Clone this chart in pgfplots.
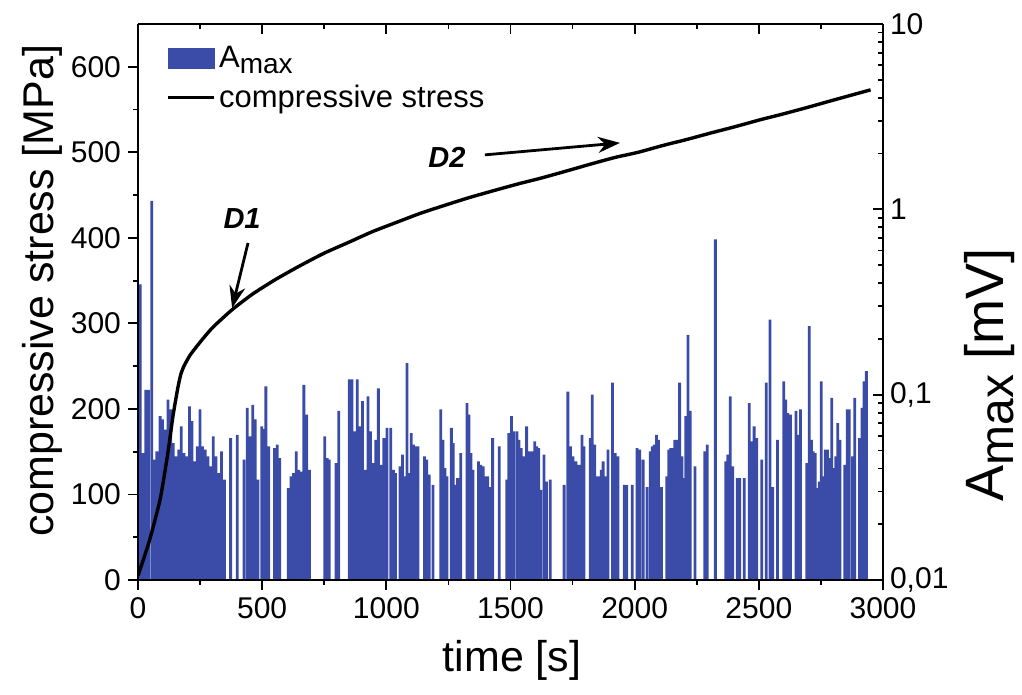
\documentclass[border=0pt]{standalone}
\usepackage{fontspec}
\setmainfont{Liberation Sans}
\usepackage{pgfplots}
\pgfplotsset{compat=1.18}
\usepackage{pgfplotstable}
\usetikzlibrary{arrows.meta}
\definecolor{barblue}{RGB}{58,76,168}

\pgfplotstableread{
t mV
9 0.394
20 0.0484
31 0.106
42 0.106
55 1.11
64 0.0446
76 0.0494
89 0.0765
99 0.0735
110 0.0647
121 0.0941
132 0.0832
142 0.0548
153 0.0464
164 0.0505
174 0.0675
185 0.0484
196 0.0464
207 0.0865
217 0.0719
228 0.0437
239 0.0526
250 0.0832
260 0.0526
271 0.0505
282 0.0464
293 0.0410
303 0.0595
314 0.0464
325 0.0377
336 0.0494
348 0.0348
373 0.0583
400 0.0607
427 0.0446
440 0.0848
451 0.0595
462 0.0882
472 0.0735
483 0.0348
498 0.0675
505 0.0652
515 0.111
526 0.0526
550 0.0515
561 0.0537
571 0.0454
605 0.0313
616 0.0362
626 0.0377
637 0.0494
647 0.0393
658 0.0385
668 0.113
679 0.0780
690 0.0393
752 0.0595
762 0.0454
770 0.0446
797 0.0427
808 0.0818
851 0.121
862 0.121
872 0.0634
883 0.121
894 0.0675
904 0.0922
915 0.0393
926 0.0979
936 0.0634
947 0.0427
957 0.0571
968 0.108
979 0.0418
990 0.0583
1003 0.0661
1018 0.0661
1029 0.0393
1037 0.0377
1055 0.0410
1065 0.0475
1075 0.0362
1083 0.148
1091 0.0377
1100 0.0621
1109 0.0537
1117 0.0526
1127 0.0526
1154 0.0464
1163 0.0446
1173 0.0370
1188 0.0326
1219 0.0832
1228 0.0571
1236 0.0401
1244 0.0362
1262 0.0661
1269 0.0548
1278 0.0326
1287 0.0355
1293 0.0355
1300 0.0484
1325 0.0900
1333 0.0780
1341 0.0484
1349 0.0393
1371 0.0437
1380 0.0418
1390 0.0410
1398 0.0362
1408 0.0362
1416 0.0317
1428 0.0583
1455 0.0526
1485 0.0348
1493 0.0621
1504 0.0765
1513 0.0634
1526 0.0634
1534 0.0571
1543 0.0515
1553 0.0464
1565 0.0675
1576 0.0494
1586 0.0494
1598 0.0560
1606 0.0526
1614 0.0515
1622 0.0306
1635 0.0475
1645 0.0340
1660 0.0348
1716 0.0326
1731 0.104
1742 0.0526
1752 0.0464
1764 0.0437
1772 0.0418
1780 0.0418
1788 0.0607
1796 0.0526
1821 0.0583
1829 0.100
1839 0.0537
1846 0.0362
1853 0.0362
1866 0.0393
1873 0.0437
1881 0.0362
1893 0.0505
1911 0.116
1922 0.0484
1933 0.0464
1958 0.0326
1968 0.0326
1990 0.0326
2009 0.0515
2020 0.0505
2034 0.0446
2050 0.0317
2063 0.0494
2071 0.0526
2079 0.0537
2088 0.0607
2096 0.0571
2108 0.0317
2129 0.0362
2137 0.0505
2145 0.0515
2153 0.0515
2161 0.0571
2169 0.0571
2181 0.116
2190 0.0464
2198 0.0355
2206 0.0765
2215 0.210
2224 0.0818
2243 0.0410
2282 0.0494
2292 0.0537
2325 0.689
2367 0.0437
2375 0.0475
2385 0.0979
2395 0.0410
2413 0.0355
2423 0.0355
2441 0.0355
2461 0.0900
2471 0.0560
2481 0.0675
2492 0.0583
2512 0.0446
2530 0.116
2545 0.254
2556 0.0317
2575 0.0571
2600 0.118
2608 0.0941
2616 0.0795
2627 0.0780
2650 0.0818
2659 0.0607
2668 0.0832
2693 0.0427
2703 0.234
2712 0.0571
2719 0.0494
2727 0.0484
2736 0.0313
2743 0.0340
2751 0.118
2760 0.0362
2768 0.0505
2776 0.0505
2785 0.0454
2794 0.0960
2802 0.0401
2810 0.0464
2818 0.0703
2827 0.0571
2846 0.0418
2856 0.0832
2864 0.0832
2877 0.0464
2886 0.0960
2905 0.0583
2916 0.0848
2924 0.118
2933 0.134
}\amaxdata

\pgfplotstableread{
t s
0 5
45 45
89 94
120 148
141 192
160 224
172 240
185 250
210 263
250 278
300 295
379 316
460 334
552 351
650 367
749 382
850 395
942 407
1040 418
1140 429
1235 438
1333 447
1430 455
1530 463
1625 470
1724 478
1820 486
1921 494
2014 500
2114 508
2210 515
2312 523
2405 530
2505 538
2600 545
2702 553
2800 561
2950 573
}\stressdata

\begin{document}
\begin{tikzpicture}
\pgfplotsset{
  every axis/.append style={
    scale only axis, width=372.5pt, height=278pt,
    xmin=0, xmax=3000,
    /pgf/number format/assume math mode=true,
    tick label style={font=\fontsize{15}{17}\selectfont},
    major tick length=5pt, minor tick length=2.5pt,
    every tick/.style={black, line width=0.9pt},
    axis line style={line width=1pt},
  }
}
\begin{axis}[
  axis x line*=top, axis y line*=right,
  ymode=log, ymin=0.01, ymax=10, log origin y=infty,
  xtick={0,500,...,3000}, minor x tick num=1, xticklabels={},
  ytick={0.01,0.1,1,10}, yticklabels={{0,01},{0,1},{1},{10}},
  tick align=inside,
  ylabel={A\raisebox{-0.35ex}{\fontsize{24}{24}\selectfont max} [mV]},
  every axis y label/.style={at={(axis description cs:1.1436,0.369)}, anchor=center, rotate=90, font=\fontsize{27}{29}\selectfont},
]
\addplot[ybar, bar width=1.4pt, fill=barblue, draw=none] table[x=t, y=mV] {\amaxdata};
\end{axis}
\begin{axis}[
  axis x line*=bottom, axis y line*=left,
  ymin=0, ymax=650,
  xtick={0,500,...,3000}, minor x tick num=1,
  ytick={0,100,...,600}, minor y tick num=1,
  tick align=outside,
  xticklabel style={/pgf/number format/1000 sep={}},
  xlabel={time [s]}, ylabel={compressive stress [MPa]},
  every axis x label/.style={at={(axis description cs:0.502,-0.144)}, anchor=center, font=\fontsize{21.5}{24}\selectfont},
  every axis y label/.style={at={(axis description cs:-0.1289,0.52)}, anchor=center, rotate=90, font=\fontsize{21.5}{24}\selectfont},
  legend style={at={(axis description cs:0.03,0.975)}, anchor=north west, draw=none, fill=none,
    font=\fontsize{15.5}{18}\selectfont, row sep=3pt},
  legend cell align=left,
]
\addlegendimage{legend image code/.code={\fill[barblue] (0pt,-5pt) rectangle (23pt,5pt);}}
\addlegendentry{A\raisebox{-0.35ex}{\fontsize{14}{14}\selectfont max}}
\addplot[black, line width=1.7pt, smooth, tension=0.35, legend image code/.code={\draw[black,line width=1.2pt] (0pt,0pt) -- (23pt,0pt);}] table[x=t, y=s] {\stressdata};
\addlegendentry{compressive stress}
\node[font=\bfseries\itshape\fontsize{14.5}{16}\selectfont] at (axis cs:419,423) {D1};
\draw[-{Stealth[length=11pt,width=8pt]}, line width=1.4pt] (axis cs:443,394) -- (axis cs:379,318);
\node[font=\bfseries\itshape\fontsize{14.5}{16}\selectfont] at (axis cs:1244,494) {D2};
\draw[-{Stealth[length=11pt,width=8pt]}, line width=1.4pt] (axis cs:1397,497) -- (axis cs:1941,511);
\end{axis}
\pgfresetboundingbox
\path[use as bounding box] (-69pt,-57.5pt) rectangle (442pt,290pt);
\end{tikzpicture}
\end{document}
